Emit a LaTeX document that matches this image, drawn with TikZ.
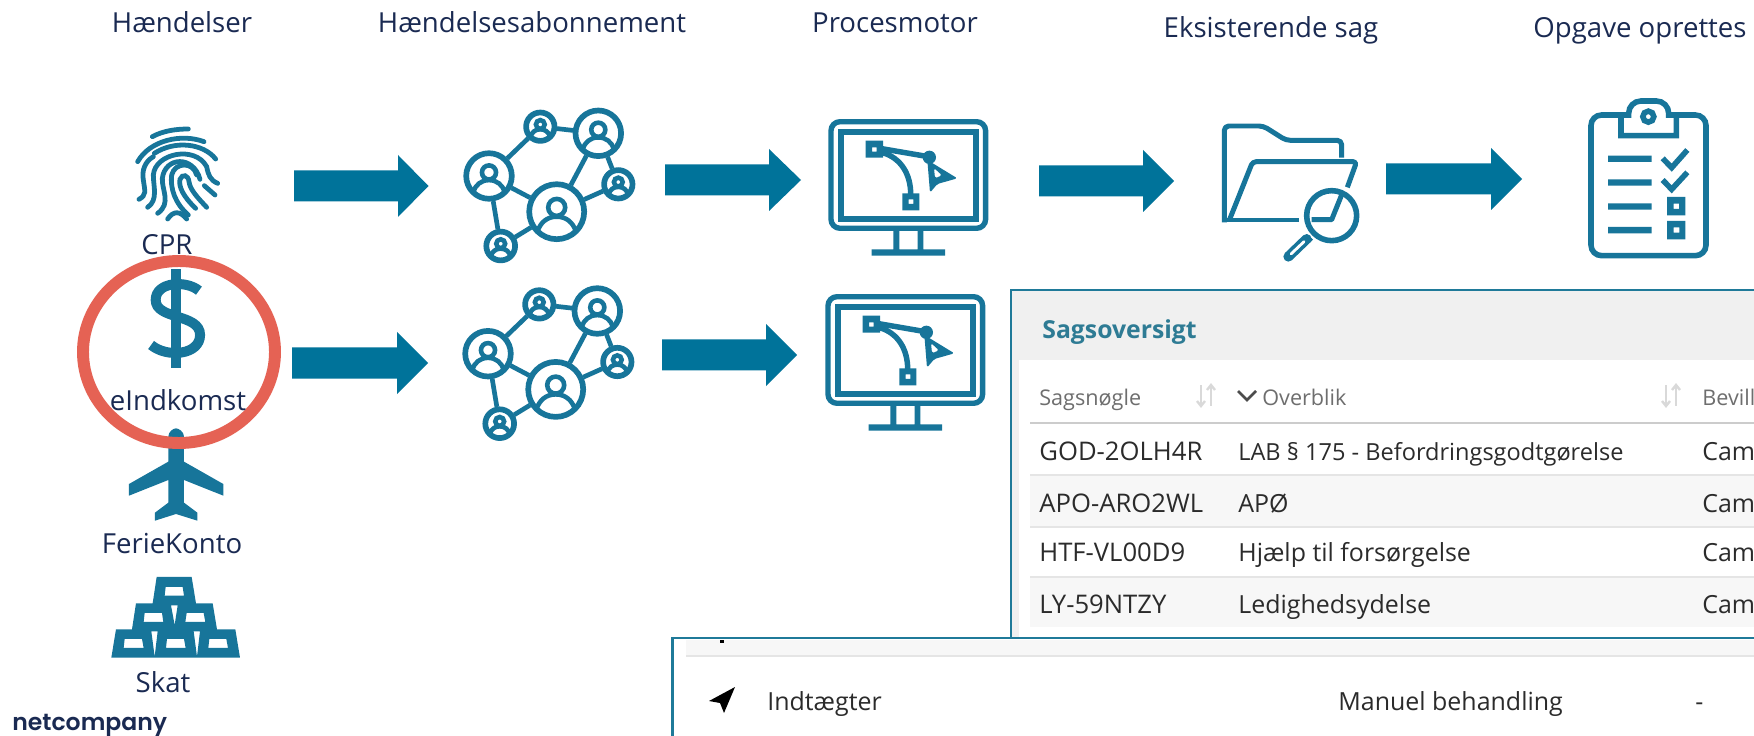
\documentclass[tikz,border=0pt]{standalone}
\usepackage{fontspec}
\setmainfont{Open Sans}
\newfontfamily\logofont{Poppins}[UprightFont=* SemiBold]
\usetikzlibrary{calc}
\definecolor{arrowteal}{HTML}{00739A}
\definecolor{iconteal}{HTML}{17759A}
\definecolor{navy}{HTML}{1A2A52}
\definecolor{ringred}{HTML}{E56254}
\definecolor{panelteal}{HTML}{1F7A99}
\definecolor{greytext}{HTML}{6E6E6E}
\definecolor{darktext}{HTML}{2B2B2B}
\definecolor{headteal}{HTML}{2E7B94}
\tikzset{
  px/.style={line width=#1*0.567pt},
  toplabel/.style={anchor=base,inner sep=0,text=navy,font=\fontsize{15.7}{18}\selectfont},
  srclabel/.style={anchor=base,inner sep=0,text=navy,font=\fontsize{15.7}{18}\selectfont},
  cell/.style={anchor=base west,inner sep=0,text=darktext,font=\fontsize{14.2}{17}\selectfont},
  keycell/.style={anchor=base west,inner sep=0,text=darktext,font=\fontsize{14.6}{17}\selectfont},
  headcell/.style={anchor=base west,inner sep=0,text=greytext,font=\fontsize{12.3}{15}\selectfont},
  netnode/.style={circle,draw=iconteal,fill=white,inner sep=0,outer sep=0,px=5.7},
  zoomA/.style={shift={(60,100)},x=0.02cm/2.613,y=-0.02cm/3},
  zoomB/.style={shift={(0,430)},x=0.02cm/3,y=-0.02cm/3},
  zoomM/.style={shift={(820,110)},x=0.02cm/3,y=-0.02cm/3},
  zoomF/.style={shift={(1210,115)},x=0.02cm/3,y=-0.02cm/3},
  zoomK/.style={shift={(1575,95)},x=0.02cm/3,y=-0.02cm/3},
  zoomP/.style={shift={(125,120)},x=0.02cm/3,y=-0.02cm/3},
}
\newcommand{\blockarrow}[4]{% x0 xhead xtip ycentre
  \fill[arrowteal] (#1,#4-15.5) -- (#2,#4-15.5) -- (#2,#4-31) -- (#3,#4) -- (#2,#4+31) -- (#2,#4+15.5) -- (#1,#4+15.5) -- cycle;}
\newcommand{\netperson}[4]{% name x y radius
  \node[netnode,minimum size=#4*0.04cm] (#1) at (#2,#3) {};
  \begin{scope}[shift={(#2,#3)},scale=#4/27.5]
    \draw[iconteal,px=4.6] (0,-4.3) circle (8.5);
    \draw[iconteal,px=4.6] (-19,19) .. controls (-16,11) and (-10,5) .. (0,5) .. controls (10,5) and (16,11) .. (19,19);
  \end{scope}}
\newcommand{\network}[3]{% suffix dx dy
  \begin{scope}[shift={(#2,#3)}]
    \netperson{a#1}{489}{176}{22.8}
    \netperson{b#1}{540.3}{126.7}{14.2}
    \netperson{c#1}{598.3}{133.3}{22.8}
    \netperson{d#1}{618.3}{184.3}{14.2}
    \netperson{e#1}{556.7}{211.7}{27.5}
    \netperson{f#1}{500.7}{246}{14.4}
    \foreach \p/\q in {a/b,b/c,c/d,c/e,e/d,a/e,a/f,f/e}
      \draw[iconteal,px=4.7,shorten <=1.5pt,shorten >=1.5pt] (\p#1) -- (\q#1);
  \end{scope}}
\newcommand{\monitoricon}[2]{%
  \begin{scope}[shift={(#1,#2)}]
    \draw[iconteal,px=5.4,rounded corners=9*0.02cm] (831,121.7) rectangle (985.6,228.3);
    \draw[iconteal,px=6] (841.2,132) rectangle (975.6,219);
    \fill[iconteal] (893.3,231) rectangle (899.3,250) (917.7,231) rectangle (923.3,250) (871.7,249.3) rectangle (945,255.7);
    \begin{scope}[zoomM]
      \fill[iconteal,even odd rule] (137,92) rectangle (189,143) (156,112) rectangle (170,125);
      \fill[iconteal,even odd rule] (247,250) rectangle (298,301) (266,268) rectangle (280,282);
      \draw[iconteal,px=5.5] (185,116) -- (325,140);
      \draw[iconteal,px=5.5] (188,128) .. controls (245,145) and (272,195) .. (272,252);
      \fill[iconteal] (328,142) circle (20);
      \fill[iconteal,even odd rule,rounded corners=1pt] (322,150) -- (412,205) -- (352,222) -- (330,248) -- cycle (342,174) -- (366,196) -- (345,205) -- cycle;
    \end{scope}
  \end{scope}}
\begin{document}
\begin{tikzpicture}[x=0.02cm,y=-0.02cm]
\useasboundingbox (0,0) rectangle (1754,736);
\fill[white] (0,0) rectangle (1754,736);
% column titles
\node[toplabel] (t1) at (182,33) {Hændelser};
\node[toplabel] (t2) at (532,33) {Hændelsesabonnement};
\node[toplabel] (t3) at (895,33) {Procesmotor};
\node[toplabel] (t4) at (1271,38) {Eksisterende sag};
\node[toplabel] (t5) at (1640,38) {Opgave oprettes};
% block arrows
\blockarrow{294}{398}{428.5}{186}
\blockarrow{292}{397}{428}{363}
\blockarrow{665}{769}{801}{180}
\blockarrow{662}{766}{797}{355}
\blockarrow{1039}{1143}{1174}{181}
\blockarrow{1386}{1491}{1522}{179}
% fingerprint
\begin{scope}[zoomP,iconteal,px=4.8,line cap=round]
  \draw (82,50) .. controls (115,32) and (155,27) .. (190,27);
  \draw (38,125) .. controls (75,60) and (170,40) .. (237,65);
  \draw (88,100) .. controls (150,60) and (235,70) .. (272,117);
  \draw (85,110) .. controls (60,125) and (50,150) .. (55,180) .. controls (60,215) and (65,225) .. (42,238);
  \draw (68,262) .. controls (100,240) and (85,200) .. (85,165) .. controls (90,100) and (210,75) .. (245,140) .. controls (250,165) and (255,180) .. (278,190);
  \draw (98,280) .. controls (140,250) and (110,210) .. (112,175) .. controls (120,110) and (205,105) .. (225,178);
  \draw (190,285) .. controls (150,250) and (135,205) .. (140,165) .. controls (150,125) and (205,125) .. (215,165);
  \draw (212,265) .. controls (175,230) and (160,200) .. (165,178) .. controls (172,160) and (190,165) .. (192,185) .. controls (195,210) and (220,235) .. (245,262);
  \draw (238,197) -- (270,225);
  \draw (128,297) .. controls (145,272) and (165,272) .. (185,297);
\end{scope}
\node[srclabel] (cpr) at (167,255) {CPR};
% dollar sign
\begin{scope}[zoomA]
  \fill[iconteal] (291,507) rectangle (316,803);
  \draw[iconteal,px=10] (363,572) .. controls (330,540) and (250,545) .. (250,600) .. controls (250,660) and (366,640) .. (366,705) .. controls (366,765) and (280,775) .. (238,735);
\end{scope}
% plane
\begin{scope}[zoomB]
  \fill[iconteal] (505,95) -- (505,20) .. controls (505,5) and (520,-5) .. (528,-5) .. controls (536,-5) and (552,5) .. (552,20) -- (552,95) -- (670,162) -- (670,197) -- (552,150) -- (552,218) -- (592,248) -- (592,272) -- (528,252) -- (465,272) -- (465,248) -- (505,218) -- (505,150) -- (387,197) -- (387,162) -- cycle;
\end{scope}
\node[srclabel] (ferie) at (172,553) {FerieKonto};
% gold bars
\begin{scope}[zoomB]
  \fill[iconteal,even odd rule] (470,441) -- (575,441) -- (588,520) -- (638,520) -- (651,598) -- (706,598) -- (720,683) -- (334,683) -- (348,598) -- (396,598) -- (408,520) -- (458,520) -- cycle
    (497,471) -- (548,471) -- (552,497) -- (494,497) -- cycle
    (434,549) -- (486,549) -- (490,576) -- (431,576) -- cycle
    (560,549) -- (611,549) -- (616,576) -- (556,576) -- cycle
    (374,627) -- (426,627) -- (431,654) -- (371,654) -- cycle
    (501,627) -- (552,627) -- (557,654) -- (498,654) -- cycle
    (628,627) -- (679,627) -- (684,654) -- (625,654) -- cycle
    (513,526) -- (533,526) -- (524,585) -- cycle
    (454,604) -- (473,604) -- (464,680) -- cycle
    (581,604) -- (600,604) -- (591,680) -- cycle;
\end{scope}
\node[srclabel] (skat) at (163,692) {Skat};
\node[anchor=base west,inner sep=0,text=navy,font=\logofont\fontsize{13.4}{15}\selectfont] (logo) at (12,730.5) {netcompany};
% red ring
\draw[ringred,px=12] (179,352) ellipse [x radius=96,y radius=91];
\node[srclabel] (eind) at (178,410) {eIndkomst};
% networks
\network{1}{0}{0}
\network{2}{-1}{177.7}
% monitors
\monitoricon{0}{0}
\monitoricon{-3}{175}
% folder
\begin{scope}[zoomF,iconteal,px=5,line join=round]
  \draw[rounded corners=2.5pt] (43,322) -- (43,33) -- (160,33) -- (228,76) -- (395,76) -- (395,128);
  \draw[rounded corners=2pt] (57,318) -- (128,140) -- (440,140) -- (412,217);
  \draw (43,315) -- (268,315);
  \draw (305,314) -- (365,314) -- (398,232);
  \draw[px=5.6] (365,302) circle (75);
  \draw[px=10,line cap=round] (235,425) -- (290,372);
  \draw[white,px=2.8,line cap=round] (243,417) -- (282,380);
  \draw[px=4] (290,365) -- (305,378);
\end{scope}
% clipboard
\begin{scope}[zoomK,iconteal]
  \draw[px=5.6,rounded corners=6pt] (48,60) rectangle (393,482);
  \draw[px=5.6,fill=white,rounded corners=0pt] (138,60) -- (161,60) [rounded corners=7pt] -- (161,18) -- (281,18) [rounded corners=0pt] -- (281,60) -- (304,60) -- (304,122) -- (138,122) -- cycle;
  \draw[px=5.6] (220,65) circle (16.5);
  \fill (99,182) rectangle (230,201) (99,253) rectangle (230,272) (99,325) rectangle (230,344) (99,396) rectangle (230,415);
  \draw[px=5.6] (263,190) -- (290,218) -- (337,165);
  \draw[px=5.6] (263,255) -- (290,283) -- (337,232);
  \fill[even odd rule] (276,306) rectangle (331,361) (296,326) rectangle (312,342);
  \fill[even odd rule] (276,378) rectangle (331,433) (296,397) rectangle (313,413);
\end{scope}
% case overview panel
\begin{scope}
  \clip (0,0) rectangle (1754,736);
  \fill[white] (1011,290) rectangle (1760,640);
  \fill[black!6] (1011,290) rectangle (1760,360);
  \fill[black!6] (1011,290) rectangle (1019,640);
  \draw[panelteal,px=2.5] (1011,640) -- (1011,290) -- (1760,290);
  \fill[black!3] (1030,475) rectangle (1760,527);
  \fill[black!3] (1030,577) rectangle (1760,627);
  \draw[black!20,px=3] (1030,423) -- (1760,423);
  \draw[black!10,px=2] (1030,475) -- (1760,475);
  \draw[black!10,px=2] (1030,527) -- (1760,527);
  \draw[black!10,px=2] (1030,577) -- (1760,577);
  \node[anchor=base west,inner sep=0,text=headteal,font=\bfseries\fontsize{14.1}{16}\selectfont] (sag) at (1042,338) {Sagsoversigt};
  \node[headcell] (h1) at (1039,405) {Sagsnøgle};
  \node[headcell] (h2) at (1262,405) {Overblik};
  \node[headcell] (h3) at (1702,405) {Bevill};
  \draw[black!70,px=2.6] (1238,391) -- (1247,400) -- (1256,391);
  \foreach \sx in {1196,1661}{
    \draw[black!15,px=2.4] (\sx+5,385) -- (\sx+5,406);
    \draw[black!15,px=2.4] (\sx+1,401) -- (\sx+5,406) -- (\sx+9,401);
    \draw[black!15,px=2.4] (\sx+15,385) -- (\sx+15,406);
    \draw[black!15,px=2.4] (\sx+11,390) -- (\sx+15,385) -- (\sx+19,390);
  }
  \node[keycell] (r1a) at (1039,460) {GOD-2OLH4R};
  \node[cell,font=\fontsize{13.4}{16}\selectfont] (r1b) at (1238,460) {LAB § 175 - Befordringsgodtgørelse};
  \node[cell] (r1c) at (1702,460) {Cam};
  \node[keycell] (r2a) at (1039,512) {APO-ARO2WL};
  \node[cell] (r2b) at (1238,512) {APØ};
  \node[cell] (r2c) at (1702,512) {Cam};
  \node[keycell] (r3a) at (1039,561.5) {HTF-VL00D9};
  \node[cell] (r3b) at (1238,561.5) {Hjælp til forsørgelse};
  \node[cell] (r3c) at (1702,561.5) {Cam};
  \node[keycell] (r4a) at (1039,613) {LY-59NTZY};
  \node[cell] (r4b) at (1238,613) {Ledighedsydelse};
  \node[cell] (r4c) at (1702,613) {Cam};
  % second panel
  \fill[white] (672.5,638) rectangle (1760,740);
  \fill[black!3] (686,640) rectangle (1760,655);
  \draw[black!10,px=2] (686,656) -- (1760,656);
  \draw[panelteal,px=2.5] (672.5,740) -- (672.5,638) -- (1760,638);
  \fill[black] (720,640) rectangle (724,643);
  \fill[black] (735,687) -- (709,701) -- (720,703) -- (724,713) -- cycle;
  \node[cell] (ind) at (767,710) {Indtægter};
  \node[cell] (man) at (1338,710) {Manuel behandling};
  \node[cell] (dash) at (1695,710) {-};
\end{scope}
\end{tikzpicture}
\end{document}
